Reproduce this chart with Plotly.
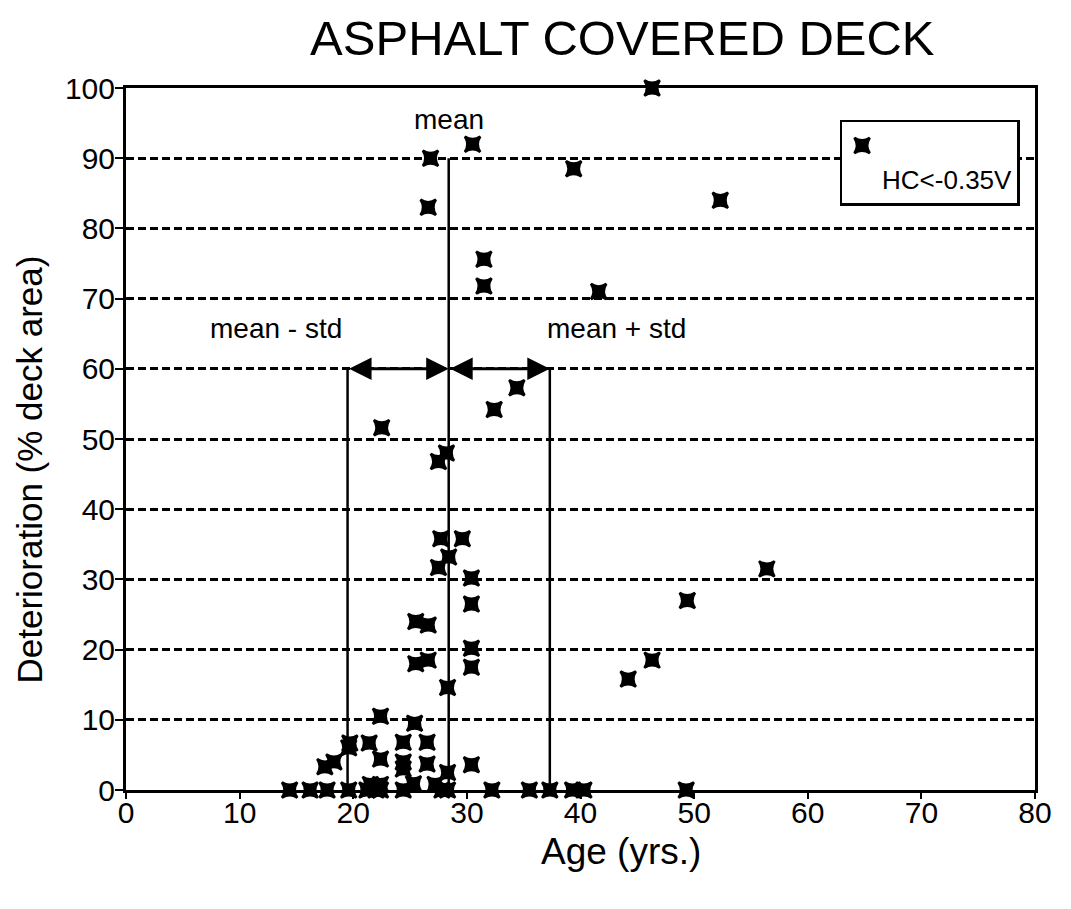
import plotly.graph_objects as go

# ---- data (Age in yrs, Deterioration in % deck area) ----
age = [14.4, 16.2, 17.7, 19.6, 21.2, 22.0, 22.4, 24.4, 27.8, 28.3, 32.2, 35.5, 37.3, 39.3, 40.3, 49.3,
       21.5, 22.4, 25.3, 27.2,
       17.5, 18.3, 19.6, 19.7, 21.4, 22.4, 22.4, 24.4, 24.4, 24.4, 25.4, 26.5, 26.5, 28.3, 30.4, 28.3,
       25.5, 26.6, 30.4, 30.4, 25.5, 26.6, 30.4, 30.4, 27.5, 28.4, 27.7, 29.6, 27.5, 28.2, 22.5, 32.4, 34.4,
       26.6, 26.8, 30.5, 39.4, 31.5, 31.5, 41.6, 46.3, 52.3, 56.4, 49.4, 46.3, 44.2]
deterioration = [0, 0, 0, 0, 0, 0, 0, 0, 0, 0, 0, 0, 0, 0, 0, 0,
                 0.8, 0.8, 0.9, 0.8,
                 3.3, 4.0, 6.0, 6.7, 6.7, 4.4, 10.5, 6.8, 4.0, 3.0, 9.5, 6.8, 3.7, 2.5, 3.6, 14.6,
                 18.0, 18.5, 17.5, 20.2, 24.0, 23.5, 26.5, 30.2, 31.7, 33.2, 35.8, 35.8, 46.8, 48.0, 51.6, 54.2, 57.3,
                 83.0, 90.0, 92.0, 88.5, 75.6, 71.8, 71.0, 100.0, 84.0, 31.5, 27.0, 18.5, 15.8]

MEAN_AGE = 28.4
STD_AGE = 8.9
MEAN_LINE_TOP = 90
STD_LINE_TOP = 60

x_ticks = [0, 10, 20, 30, 40, 50, 60, 70, 80]
y_ticks = [0, 10, 20, 30, 40, 50, 60, 70, 80, 90, 100]

FONT = "Liberation Sans, Arial, Helvetica, sans-serif"

fig = go.Figure()
fig.add_trace(go.Scatter(
    x=age, y=deterioration, mode="markers",
    name="<br>HC&lt;-0.35V",
    marker=dict(symbol="star-square", size=14, color="black", line=dict(width=2.5, color="black")),
    cliponaxis=False,
))

# mean and mean +/- std vertical lines
fig.add_shape(type="line", x0=MEAN_AGE, x1=MEAN_AGE, y0=0, y1=MEAN_LINE_TOP,
              xref="x", yref="y", line=dict(color="black", width=2.5))
for xv in (MEAN_AGE - STD_AGE, MEAN_AGE + STD_AGE):
    fig.add_shape(type="line", x0=xv, x1=xv, y0=0, y1=STD_LINE_TOP,
                  xref="x", yref="y", line=dict(color="black", width=2.5))

# double-headed arrows
for a, b in ((MEAN_AGE - STD_AGE, MEAN_AGE), (MEAN_AGE, MEAN_AGE + STD_AGE)):
    fig.add_annotation(x=b, y=STD_LINE_TOP, ax=a, ay=STD_LINE_TOP, axref="x", ayref="y",
                       xref="x", yref="y", text="", showarrow=True,
                       arrowhead=2, startarrowhead=2, arrowside="end+start",
                       arrowsize=1.5, startarrowsize=1.5, arrowwidth=3, arrowcolor="black")

fig.add_annotation(x=MEAN_AGE, y=95.5, text="mean", showarrow=False,
                   font=dict(size=28, color="black", family=FONT))
fig.add_annotation(x=13.2, y=65.8, text="mean - std", showarrow=False,
                   font=dict(size=28, color="black", family=FONT))
fig.add_annotation(x=43.2, y=65.8, text="mean + std", showarrow=False,
                   font=dict(size=28, color="black", family=FONT))

# axis titles (placed as in the reference)
fig.add_annotation(x=0.545, y=-0.088, xref="paper", yref="paper", text="Age (yrs.)",
                   showarrow=False, xanchor="center", yanchor="middle",
                   font=dict(size=37, color="black", family=FONT))
fig.add_annotation(x=-0.106, y=0.456, xref="paper", yref="paper", text="Deterioration (% deck area)",
                   showarrow=False, textangle=-90, xanchor="center", yanchor="middle",
                   font=dict(size=35, color="black", family=FONT))

fig.update_layout(
    width=1071, height=909,
    margin=dict(l=118, r=44, t=80, b=127),
    paper_bgcolor="white", plot_bgcolor="white",
    font=dict(family=FONT, color="black"),
    title=dict(text="ASPHALT COVERED DECK", x=0.546, xref="paper", xanchor="center",
               y=0.967, yanchor="middle", font=dict(size=49, color="black", family=FONT)),
    showlegend=True,
    legend=dict(x=0.785, y=0.955, xanchor="left", yanchor="top",
                bordercolor="black", borderwidth=2.5, bgcolor="white",
                font=dict(size=26, color="black", family=FONT), valign="top"),
)

fig.update_xaxes(range=[0, 80], tickvals=x_ticks, ticktext=[str(v) for v in x_ticks],
                 showline=True, linewidth=3, linecolor="black", mirror=True,
                 ticks="outside", ticklen=6, tickwidth=2, tickcolor="black",
                 showgrid=False, zeroline=False, ticklabelstandoff=-12,
                 tickfont=dict(size=30, color="black", family=FONT))
fig.update_yaxes(range=[0, 100], tickvals=y_ticks, ticktext=[str(v) for v in y_ticks],
                 showline=True, linewidth=3, linecolor="black", mirror=True,
                 ticks="outside", ticklen=8, tickwidth=2, tickcolor="black",
                 showgrid=True, gridcolor="black", gridwidth=2.5, griddash="8px,4px",
                 zeroline=False, ticklabelstandoff=-6,
                 tickfont=dict(size=30, color="black", family=FONT))

fig.write_html("out.html")
